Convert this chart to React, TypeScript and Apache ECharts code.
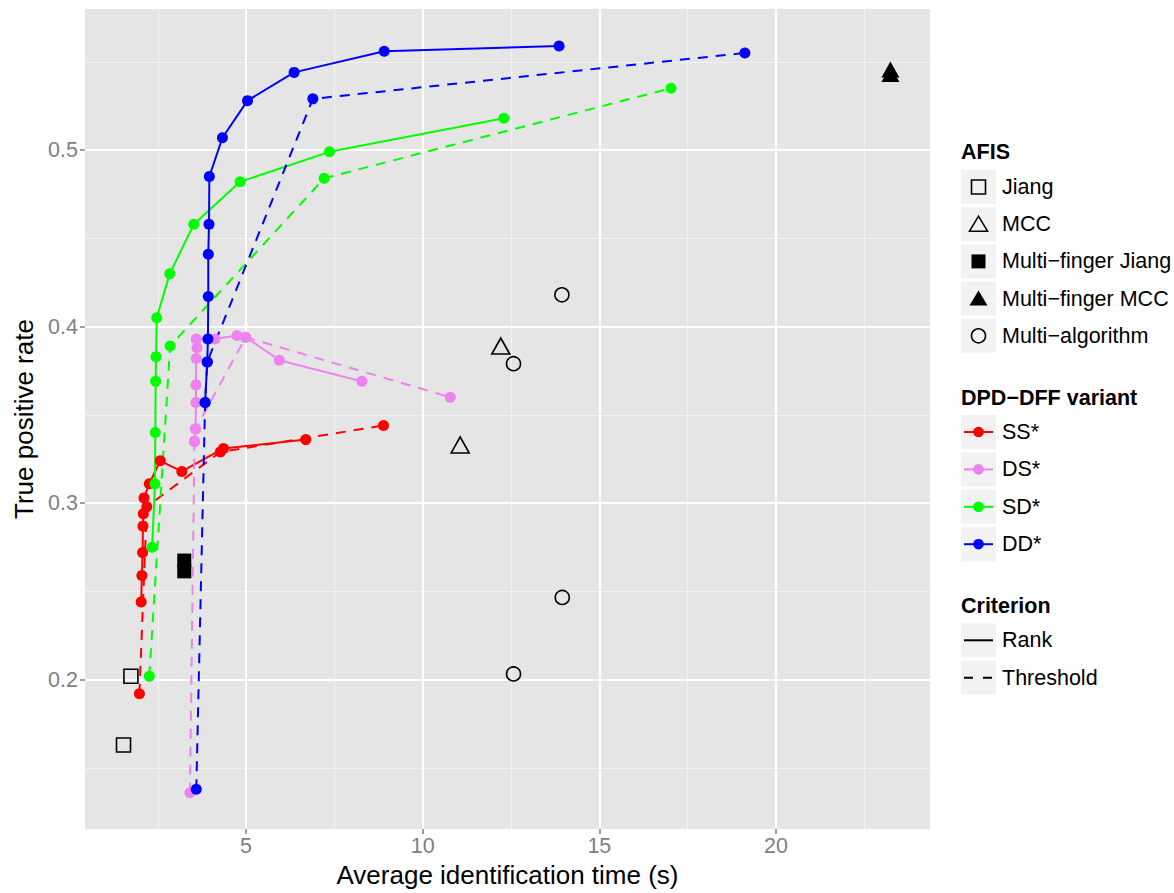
import React, { useEffect, useRef } from "react";
import * as echarts from "echarts";

// ---- axis ticks ----
const xTicks = [5, 10, 15, 20];
const xMinor = [2.5, 7.5, 12.5, 17.5, 22.5];
const yTicks = [0.2, 0.3, 0.4, 0.5];
const yMinor = [0.15, 0.25, 0.35, 0.45, 0.55];

// ---- DPD-DFF variants (x = avg identification time, y = true positive rate) ----
const ssRank = [[2.03, 0.244], [2.05, 0.259], [2.07, 0.272], [2.08, 0.287], [2.09, 0.294], [2.11, 0.303], [2.26, 0.311], [2.57, 0.324], [3.18, 0.318], [4.36, 0.331], [6.69, 0.336]];
const ssThreshold = [[1.98, 0.192], [2.19, 0.298], [4.27, 0.329], [8.89, 0.344]];
const dsRank = [[3.54, 0.335], [3.57, 0.342], [3.58, 0.357], [3.58, 0.367], [3.59, 0.382], [3.61, 0.388], [3.59, 0.393], [4.12, 0.393], [4.74, 0.395], [4.99, 0.394], [5.94, 0.381], [8.28, 0.369]];
const dsThreshold = [[3.41, 0.136], [3.54, 0.335], [3.57, 0.342], [4.99, 0.394], [10.78, 0.36]];
const sdRank = [[2.34, 0.275], [2.42, 0.311], [2.43, 0.34], [2.44, 0.369], [2.45, 0.383], [2.47, 0.405], [2.84, 0.43], [3.52, 0.458], [4.83, 0.482], [7.36, 0.499], [12.3, 0.518]];
const sdThreshold = [[2.26, 0.202], [2.85, 0.389], [7.21, 0.484], [17.03, 0.535]];
const ddRank = [[3.84, 0.357], [3.9, 0.38], [3.92, 0.393], [3.93, 0.417], [3.93, 0.441], [3.95, 0.458], [3.96, 0.485], [4.33, 0.507], [5.04, 0.528], [6.36, 0.544], [8.91, 0.556], [13.86, 0.559]];
const ddThreshold = [[3.59, 0.138], [3.84, 0.357], [3.9, 0.38], [6.89, 0.529], [19.12, 0.555]];

// ---- AFIS reference points ----
const jiang = [[1.74, 0.202], [1.53, 0.163]];
const mcc = [[12.21, 0.389], [11.06, 0.333]];
const mfJiang = [[3.25, 0.2675], [3.25, 0.2614]];
const mfMcc = [[23.24, 0.5457], [23.24, 0.5431]];
const multiAlg = [[13.94, 0.418], [12.57, 0.379], [13.95, 0.2466], [12.57, 0.2033]];

const afisLabels = ["Jiang", "MCC", "Multi\u2212finger Jiang", "Multi\u2212finger MCC", "Multi\u2212algorithm"];
const variantLabels = ["SS*", "DS*", "SD*", "DD*"];
const variantColors = ["#FF0000", "#EE82EE", "#00FF00", "#0000FF"];
const criterionLabels = ["Rank", "Threshold"];

const FONT = "'Liberation Sans', Arial, Helvetica, sans-serif";
const DASH = [10, 8];
const SMALL = 21.5;
const BIG = 26;

function App() {
  const ref = useRef<HTMLDivElement>(null);
  useEffect(() => {
    if (!ref.current) return;
    const chart = echarts.init(ref.current, null, { renderer: "svg" });

    const lineSeries = (data: number[][], color: string, dashed: boolean) => ({
      type: "line",
      data,
      symbol: "circle",
      symbolSize: 11,
      showSymbol: true,
      itemStyle: { color, opacity: 1 },
      lineStyle: { color, width: 2, type: dashed ? DASH : "solid" },
      z: 3,
    });
    const openStyle = { color: "rgba(0,0,0,0)", borderColor: "#000", borderWidth: 1.6, opacity: 1 };
    const filledStyle = { color: "#000", opacity: 1 };

    // legend graphics
    const g: any[] = [];
    const LX = 961;
    const KX = LX + 17.5;
    const TX = 1002;
    const labelStyle = (t: string) => ({ text: t, fontSize: SMALL, fontFamily: FONT, fill: "#000", align: "left", verticalAlign: "middle" });
    const titleStyle = (t: string) => ({ text: t, fontSize: SMALL, fontWeight: "bold", fontFamily: FONT, fill: "#000", align: "left", verticalAlign: "middle" });
    const box = (y: number) => ({ type: "rect", shape: { x: LX, y, width: 35, height: 34 }, style: { fill: "#F2F2F2" } });

    g.push({ type: "text", x: LX, y: 152, style: titleStyle("AFIS") });
    afisLabels.forEach((lab, i) => {
      const top = 170 + i * 37.2;
      const cy = top + 17;
      g.push(box(top));
      if (i === 0 || i === 2) {
        g.push({ type: "rect", shape: { x: KX - 7, y: cy - 7, width: 14, height: 14 }, style: i === 0 ? { fill: "none", stroke: "#000", lineWidth: 1.6 } : { fill: "#000" } });
      } else if (i === 1 || i === 3) {
        g.push({ type: "polygon", shape: { points: [[KX - 9, cy + 7], [KX + 9, cy + 7], [KX, cy - 8]] }, style: i === 1 ? { fill: "none", stroke: "#000", lineWidth: 1.6 } : { fill: "#000" } });
      } else {
        g.push({ type: "circle", shape: { cx: KX, cy, r: 7 }, style: { fill: "none", stroke: "#000", lineWidth: 1.6 } });
      }
      g.push({ type: "text", x: TX, y: cy, style: labelStyle(lab) });
    });

    g.push({ type: "text", x: LX, y: 398, style: titleStyle("DPD\u2212DFF variant") });
    variantLabels.forEach((lab, i) => {
      const top = 415 + i * 37.4;
      const cy = top + 17;
      g.push(box(top));
      g.push({ type: "line", shape: { x1: LX + 3, y1: cy, x2: LX + 32, y2: cy }, style: { stroke: variantColors[i], lineWidth: 2 } });
      g.push({ type: "circle", shape: { cx: KX, cy, r: 5.3 }, style: { fill: variantColors[i] } });
      g.push({ type: "text", x: TX, y: cy, style: labelStyle(lab) });
    });

    g.push({ type: "text", x: LX, y: 606, style: titleStyle("Criterion") });
    criterionLabels.forEach((lab, i) => {
      const top = 623.3 + i * 37.4;
      const cy = top + 17;
      g.push(box(top));
      g.push({ type: "line", shape: { x1: LX + 3, y1: cy, x2: LX + 32, y2: cy }, style: { stroke: "#000", lineWidth: 2, lineDash: i === 1 ? [9, 10] : null } });
      g.push({ type: "text", x: TX, y: cy, style: labelStyle(lab) });
    });

    const gridLines = {
      type: "line",
      data: [],
      silent: true,
      markLine: {
        silent: true,
        z: 1,
        symbol: ["none", "none"],
        label: { show: false },
        emphasis: { disabled: true },
        animation: false,
        data: [
          ...xMinor.map((v) => ({ xAxis: v, lineStyle: { color: "#F2F2F2", width: 1, type: "solid" } })),
          ...yMinor.map((v) => ({ yAxis: v, lineStyle: { color: "#F2F2F2", width: 1, type: "solid" } })),
          ...xTicks.map((v) => ({ xAxis: v, lineStyle: { color: "#FFFFFF", width: 2, type: "solid" } })),
          ...yTicks.map((v) => ({ yAxis: v, lineStyle: { color: "#FFFFFF", width: 2, type: "solid" } })),
        ],
      },
    };

    chart.setOption({
      animation: false,
      backgroundColor: "#FFFFFF",
      grid: { left: 85, top: 9, right: 244, bottom: 60, show: true, backgroundColor: "#E5E5E5", borderWidth: 0, containLabel: false },
      xAxis: {
        type: "value",
        min: 0.44,
        max: 24.36,
        name: "Average identification time (s)",
        nameLocation: "middle",
        nameGap: 31,
        nameTextStyle: { fontSize: BIG, color: "#000", fontFamily: FONT },
        axisLine: { show: false },
        axisTick: { show: true, length: 5, customValues: xTicks, lineStyle: { color: "#7F7F7F", width: 1.5 } },
        axisLabel: { customValues: xTicks, color: "#7F7F7F", fontSize: SMALL, fontFamily: FONT, margin: 6 },
        splitLine: { show: false },
      },
      yAxis: {
        type: "value",
        min: 0.1154,
        max: 0.5799,
        name: "True positive rate",
        nameLocation: "middle",
        nameGap: 48,
        nameTextStyle: { fontSize: BIG, color: "#000", fontFamily: FONT },
        axisLine: { show: false },
        axisTick: { show: true, length: 5, customValues: yTicks, lineStyle: { color: "#7F7F7F", width: 1.5 } },
        axisLabel: { customValues: yTicks, color: "#7F7F7F", fontSize: SMALL, fontFamily: FONT, margin: 7 },
        splitLine: { show: false },
      },
      series: [
        gridLines,
        lineSeries(ssRank, variantColors[0], false),
        lineSeries(ssThreshold, variantColors[0], true),
        lineSeries(dsRank, variantColors[1], false),
        lineSeries(dsThreshold, variantColors[1], true),
        lineSeries(sdRank, variantColors[2], false),
        lineSeries(sdThreshold, variantColors[2], true),
        lineSeries(ddRank, variantColors[3], false),
        lineSeries(ddThreshold, variantColors[3], true),
        { type: "scatter", data: jiang, symbol: "rect", symbolSize: 14, itemStyle: openStyle, z: 4 },
        { type: "scatter", data: mcc, symbol: "triangle", symbolSize: [18, 16], itemStyle: openStyle, z: 4 },
        { type: "scatter", data: mfJiang, symbol: "rect", symbolSize: 14, itemStyle: filledStyle, z: 4 },
        { type: "scatter", data: mfMcc, symbol: "triangle", symbolSize: [18, 16], itemStyle: filledStyle, z: 4 },
        { type: "scatter", data: multiAlg, symbol: "circle", symbolSize: 14, itemStyle: openStyle, z: 4 },
      ],
      graphic: g,
    });
    return () => chart.dispose();
  }, []);
  return <div ref={ref} style={{ position: "fixed", left: 0, top: 0, width: 1174, height: 893 }} />;
}

export default App;
